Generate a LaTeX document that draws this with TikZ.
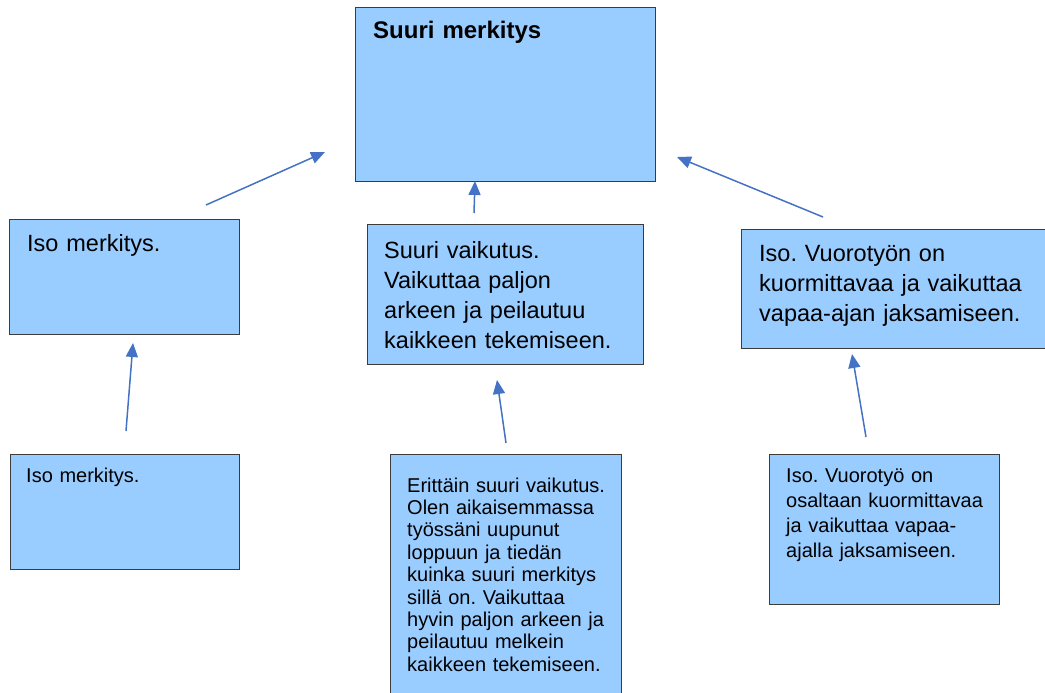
\documentclass[tikz,border=0pt]{standalone}
\usepackage{fontspec}
\setmainfont{Liberation Sans}
\frenchspacing
\usetikzlibrary{arrows.meta}
\definecolor{boxfill}{HTML}{99CCFF}
\definecolor{boxline}{HTML}{3C3C3C}
\definecolor{linkblue}{HTML}{4472C4}
\tikzset{
  box/.style={draw=boxline, fill=boxfill, line width=1.4pt, anchor=north west, inner sep=0pt},
  bigtext/.style={anchor=base west, inner sep=0pt, align=left, text width=290pt,
    font=\fontsize{23.5}{30}\selectfont},
  smalltext/.style={anchor=base west, inner sep=0pt, align=left, text width=220pt,
    font=\fontsize{20}{25}\selectfont},
  link/.style={draw=linkblue, line width=1.5pt, -{Triangle[length=14pt,width=12pt]}}
}
\begin{document}
\begin{tikzpicture}[x=1pt, y=-1pt]
  \useasboundingbox (0,0) rectangle (1045,693);
  % boxes
  \node[box, minimum width=300pt, minimum height=174pt] (main) at (355,7) {};
  \node[box, minimum width=230pt, minimum height=115pt] (isoA) at (9,219) {};
  \node[box, minimum width=276pt, minimum height=140pt] (suuriA) at (367,224) {};
  \node[box, minimum width=320pt, minimum height=119pt] (vuoroA) at (741,229) {};
  \node[box, minimum width=229pt, minimum height=115pt] (isoB) at (10,454) {};
  \node[box, minimum width=231pt, minimum height=250pt] (suuriB) at (390,454) {};
  \node[box, minimum width=230pt, minimum height=150pt] (vuoroB) at (769,454) {};
  % texts
  \node[bigtext, font=\fontsize{24}{30}\selectfont\bfseries] (mainT) at (373,39) {Suuri merkitys};
  \node[bigtext] (isoAT) at (27,251) {Iso merkitys.};
  \node[bigtext] (suuriAT) at (384,258) {Suuri vaikutus.\\Vaikuttaa paljon\\arkeen ja peilautuu\\kaikkeen tekemiseen.};
  \node[bigtext] (vuoroAT) at (759,261) {Iso. Vuorotyön on\\kuormittavaa ja vaikuttaa\\vapaa-ajan jaksamiseen.};
  \node[smalltext] (isoBT) at (26,482) {Iso merkitys.};
  \node[smalltext, font=\fontsize{20}{22.4}\selectfont] (suuriBT) at (407,492) {Erittäin suuri vaikutus.\\Olen aikaisemmassa\\työssäni uupunut\\loppuun ja tiedän\\kuinka suuri merkitys\\sillä on. Vaikuttaa\\hyvin paljon arkeen ja\\peilautuu melkein\\kaikkeen tekemiseen.};
  \node[smalltext] (vuoroBT) at (786,482) {Iso. Vuorotyö on\\osaltaan kuormittavaa\\ja vaikuttaa vapaa-\\ajalla jaksamiseen.};
  % arrow ends
  \coordinate (isoAtail) at (206,205);
  \coordinate (isoAtip) at (325,152);
  \coordinate (suuriAtail) at (474,213);
  \coordinate (suuriAtip) at (475,181);
  \coordinate (vuoroAtail) at (823,217);
  \coordinate (vuoroAtip) at (677,157);
  \coordinate (isoBtail) at (126,431);
  \coordinate (isoBtip) at (133,343);
  \coordinate (suuriBtail) at (506,443);
  \coordinate (suuriBtip) at (497,380);
  \coordinate (vuoroBtail) at (866,437);
  \coordinate (vuoroBtip) at (852,354);
  % arrows
  \draw[link] (isoAtail) -- (isoAtip);
  \draw[link] (suuriAtail) -- (suuriAtip);
  \draw[link] (vuoroAtail) -- (vuoroAtip);
  \draw[link] (isoBtail) -- (isoBtip);
  \draw[link] (suuriBtail) -- (suuriBtip);
  \draw[link] (vuoroBtail) -- (vuoroBtip);
\end{tikzpicture}
\end{document}
